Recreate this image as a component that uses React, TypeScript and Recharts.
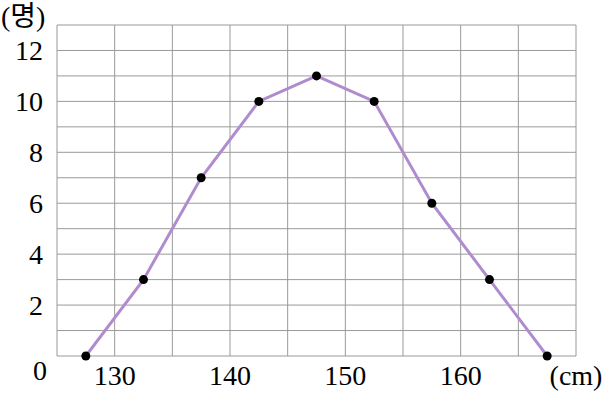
import { LineChart, Line, XAxis, YAxis, CartesianGrid } from 'recharts';

// 키 (cm) 계급값과 학생 수 (명)
const heights = [127.5, 132.5, 137.5, 142.5, 147.5, 152.5, 157.5, 162.5, 167.5];
const counts = [0, 3, 7, 10, 11, 10, 6, 3, 0];
const xTicks = [125, 130, 135, 140, 145, 150, 155, 160, 165, 170];
const xLabels: Record<number, string> = { 130: '130', 140: '140', 150: '150', 160: '160', 170: '(cm)' };
const yTicks = [0, 1, 2, 3, 4, 5, 6, 7, 8, 9, 10, 11, 12, 13];
const yLabels = [0, 2, 4, 6, 8, 10, 12];

const data = heights.map((h, i) => ({ h, n: counts[i] }));

const FONT = '"Liberation Serif", "Noto Sans CJK KR", serif';

const XTick = ({ x, y, payload }: any) => {
  const label = xLabels[payload.value];
  if (!label) return null;
  return (
    <text x={x} y={y + 21} textAnchor="middle" fontFamily={FONT} fontSize={28} fill="#000">
      {label}
    </text>
  );
};

const YTick = ({ x, y, payload }: any) => {
  if (!yLabels.includes(payload.value)) return null;
  if (payload.value === 0) {
    return (
      <text x={x - 3} y={y + 24} textAnchor="middle" fontFamily={FONT} fontSize={28} fill="#000">
        0
      </text>
    );
  }
  return (
    <text x={x} y={y + 10} textAnchor="end" fontFamily={FONT} fontSize={28} fill="#000">
      {payload.value}
    </text>
  );
};

export default function App() {
  return (
    <div style={{ position: 'relative', width: 602, height: 397, background: '#fff' }}>
      <style>{`body{margin:0}`}</style>
      <LineChart width={602} height={397} data={data} margin={{ top: 25, right: 26, left: 0, bottom: 0 }}>
        <CartesianGrid stroke="#999" strokeWidth={1} />
        <XAxis
          dataKey="h"
          type="number"
          domain={[125, 170]}
          ticks={xTicks}
          height={41}
          axisLine={false}
          tickLine={false}
          tick={<XTick />}
          interval={0}
        />
        <YAxis
          type="number"
          domain={[0, 13]}
          ticks={yTicks}
          width={57}
          axisLine={false}
          tickLine={false}
          tickSize={6}
          tickMargin={8}
          tick={<YTick />}
          interval={0}
        />
        <Line
          dataKey="n"
          stroke="#b08ccf"
          strokeWidth={3}
          dot={{ r: 4.5, fill: '#000', stroke: '#000', strokeWidth: 0 }}
          isAnimationActive={false}
        />
      </LineChart>
      <div
        style={{
          position: 'absolute',
          left: 1,
          top: 1,
          fontFamily: FONT,
          fontSize: 28,
          lineHeight: '32px',
          color: '#000',
        }}
      >
        (명)
      </div>
    </div>
  );
}
